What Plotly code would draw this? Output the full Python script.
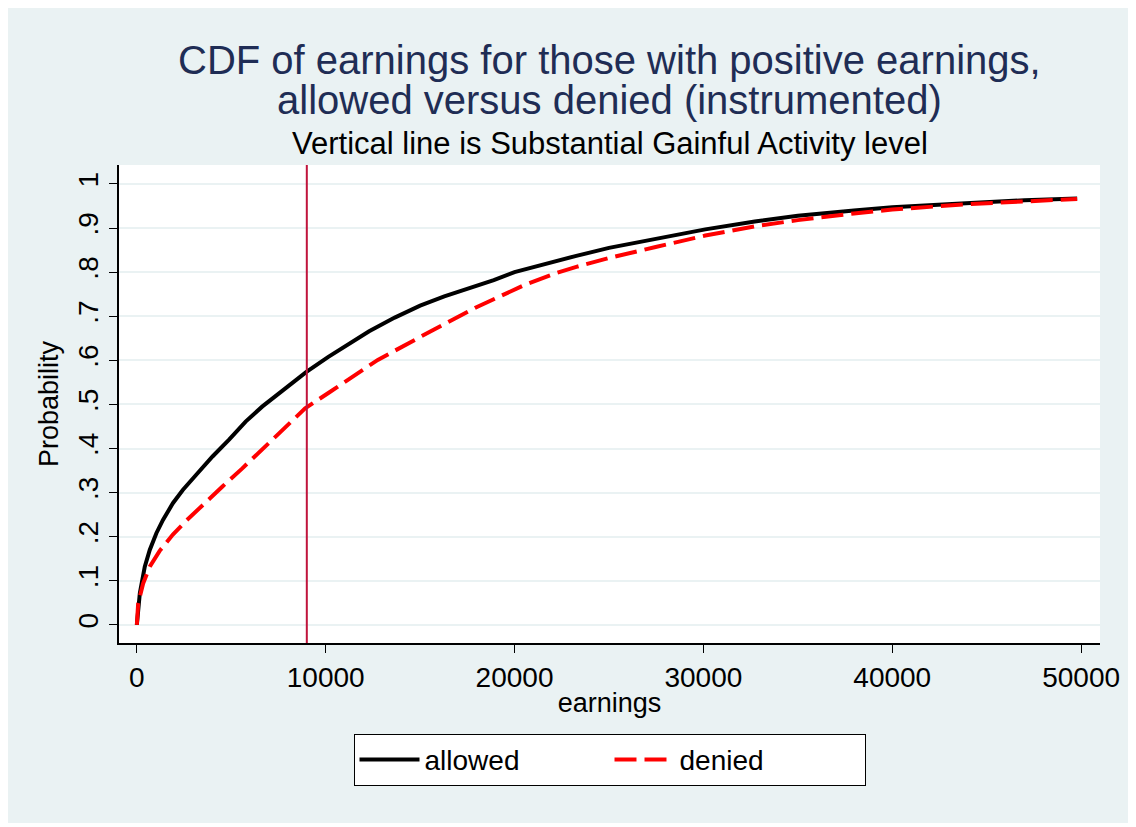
import plotly.graph_objects as go

# CDF (earnings in $, cumulative probability)
allowed_x = [0, 158, 420, 683, 1033, 1383, 1908, 2433, 3133, 4008, 4884, 5760,
             6635, 7510, 8386, 8980, 10140, 11030, 12300, 13655, 15000, 16280,
             18900, 20000, 21530, 23270, 25000, 27470, 30100, 32720, 35000,
             37970, 40000, 43900, 47000, 49790]
allowed_y = [0, 0.072, 0.132, 0.17, 0.208, 0.238, 0.276, 0.306, 0.34, 0.382, 0.42, 0.461,
             0.495, 0.525, 0.556, 0.574, 0.608, 0.632, 0.666, 0.697, 0.724, 0.745,
             0.782, 0.800, 0.818, 0.837, 0.855, 0.876, 0.897, 0.915, 0.928,
             0.940, 0.947, 0.956, 0.963, 0.967]

denied_x = [0, 70, 333, 683, 1208, 1908, 2608, 3483, 4534, 5585, 6635, 7685,
            8911, 10140, 12760, 15390, 18010, 20640, 22215, 23270, 25000, 27470,
            30100, 32720, 35000, 37970, 40000, 43900, 47000, 49790]
denied_y = [0, 0.049, 0.094, 0.132, 0.168, 0.205, 0.236, 0.272, 0.314, 0.355, 0.397, 0.442,
            0.491, 0.526, 0.601, 0.662, 0.721, 0.773, 0.798, 0.812, 0.832, 0.857,
            0.883, 0.904, 0.918, 0.933, 0.942, 0.954, 0.961, 0.966]

sga_level = 9000

x_ticks = [0, 10000, 20000, 30000, 40000, 50000]
x_tick_labels = ["0", "10000", "20000", "30000", "40000", "50000"]
y_ticks = [0, 0.1, 0.2, 0.3, 0.4, 0.5, 0.6, 0.7, 0.8, 0.9, 1]
y_tick_labels = ["0", ".1", ".2", ".3", ".4", ".5", ".6", ".7", ".8", ".9", "1"]

bg = "#EAF2F3"
font = "Liberation Sans, Arial, sans-serif"

fig = go.Figure()

fig.add_trace(go.Scatter(
    x=allowed_x, y=allowed_y, name="allowed", mode="lines",
    line=dict(color="black", width=4)
))
fig.add_trace(go.Scatter(
    x=denied_x, y=denied_y, name="denied", mode="lines",
    line=dict(color="#FF0000", width=4, dash="22px,8px")
))

# Substantial Gainful Activity level
fig.add_vline(x=sga_level, line=dict(color="#C0143C", width=2))

fig.add_annotation(text="CDF of earnings for those with positive earnings,",
                   xref="paper", yref="paper", x=0.5, y=1.22, showarrow=False,
                   yanchor="middle", font=dict(size=40, color="#1F2D55", family=font))
fig.add_annotation(text="allowed versus denied (instrumented)",
                   xref="paper", yref="paper", x=0.5, y=1.136, showarrow=False,
                   yanchor="middle", font=dict(size=40, color="#1F2D55", family=font))
fig.add_annotation(text="Vertical line is Substantial Gainful Activity level",
                   xref="paper", yref="paper", x=0.5, y=1.046, showarrow=False,
                   yanchor="middle", font=dict(size=31, color="black", family=font))

fig.update_layout(
    width=1124, height=815,
    margin=dict(l=111, r=24, t=157, b=180),
    paper_bgcolor=bg, plot_bgcolor="white",
    font=dict(family=font, size=28, color="black"),
    showlegend=True,
    legend=dict(orientation="h", x=0.5, xanchor="center", y=-0.19, yanchor="top",
                bgcolor="white", bordercolor="black", borderwidth=1,
                font=dict(size=28), itemwidth=60, entrywidth=180),
    xaxis=dict(range=[-945, 51000], tickvals=x_ticks, ticktext=x_tick_labels,
               ticks="outside", ticklen=8,
               tickcolor="black", showline=True, linecolor="black", linewidth=2,
               showgrid=False, zeroline=False,
               title=dict(text="earnings", standoff=2, font=dict(size=27)),
               tickfont=dict(size=28)),
    yaxis=dict(range=[-0.041, 1.043], tickvals=y_ticks, ticktext=y_tick_labels,
               tickangle=-90, ticks="outside", ticklen=8, tickcolor="black",
               showline=True, linecolor="black", linewidth=2,
               showgrid=True, gridcolor=bg, gridwidth=2, zeroline=False,
               title=dict(text="Probability", standoff=6, font=dict(size=27)),
               tickfont=dict(size=28)),
)

fig.write_html("out.html")
